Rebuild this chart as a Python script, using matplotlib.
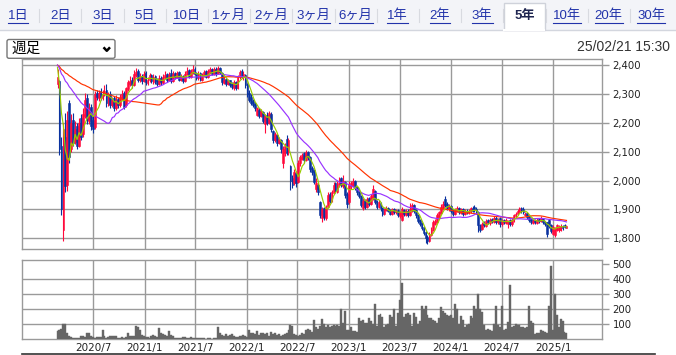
import numpy as np
import pandas as pd
import matplotlib
matplotlib.use("Agg")
import matplotlib.pyplot as plt
import matplotlib.dates as mdates
from matplotlib.patches import Rectangle, FancyBboxPatch

plt.rcParams['font.family'] = ['DejaVu Sans', 'Noto Sans CJK JP']

W, H = 676, 355

# weekly candles (週足), first week starts 2020-02-24
first_week = "2020-02-24"

opens = [
    2336, 2345, 2120, 1830, 2150, 1985, 2270, 2110, 2210, 2135,
    2190, 2120, 2215, 2160, 2225, 2285, 2205, 2255, 2210, 2185,
    2305, 2285, 2310, 2285, 2300, 2315, 2265, 2300, 2262, 2285,
    2252, 2282, 2262, 2285, 2305, 2260, 2318, 2335, 2350, 2332,
    2365, 2380, 2348, 2362, 2345, 2372, 2338, 2348, 2366, 2342,
    2362, 2348, 2333, 2356, 2338, 2358, 2368, 2350, 2372, 2345,
    2372, 2358, 2375, 2350, 2362, 2345, 2368, 2382, 2360, 2372,
    2388, 2372, 2355, 2372, 2350, 2362, 2378, 2360, 2375, 2388,
    2370, 2388, 2372, 2390, 2372, 2338, 2352, 2335, 2348, 2335,
    2322, 2342, 2320, 2358, 2380, 2358, 2366, 2335, 2305, 2290,
    2275, 2265, 2228, 2245, 2225, 2236, 2195, 2228, 2200, 2232,
    2170, 2140, 2158, 2130, 2140, 2060, 2095, 2145, 2098, 2050,
    2010, 1990, 2025, 1995, 2060, 2075, 2095, 2072, 2098, 2080,
    2045, 2035, 1970, 1985, 1925, 1870, 1905, 1870, 1910, 1955,
    1930, 1958, 1990, 1962, 1985, 2008, 1982, 1995, 1955, 1925,
    1980, 1985, 1998, 1978, 1962, 1948, 1905, 1932, 1910, 1938,
    1918, 1940, 1965, 1928, 1908, 1922, 1905, 1885, 1898, 1906,
    1898, 1885, 1902, 1890, 1898, 1878, 1865, 1898, 1882, 1896,
    1880, 1898, 1915, 1898, 1880, 1862, 1852, 1838, 1822, 1805,
    1792, 1812, 1830, 1850, 1858, 1875, 1888, 1905, 1935, 1918,
    1900, 1912, 1898, 1885, 1898, 1906, 1888, 1902, 1885, 1896,
    1888, 1892, 1906, 1910, 1902, 1892, 1846, 1832, 1852, 1842,
    1862, 1852, 1866, 1858, 1872, 1855, 1870, 1848, 1862, 1852,
    1850, 1862, 1848, 1862, 1878, 1884, 1890, 1906, 1900, 1882,
    1888, 1876, 1866, 1852, 1862, 1852, 1866, 1860, 1868, 1856,
    1855, 1862, 1845, 1815, 1812, 1830, 1828, 1830, 1842, 1845, 1837,
]
highs = [
    2385, 2350, 2150, 2200, 2235, 2240, 2280, 2230, 2235, 2205,
    2200, 2215, 2230, 2250, 2305, 2300, 2270, 2265, 2225, 2310,
    2315, 2315, 2320, 2312, 2330, 2335, 2308, 2310, 2290, 2292,
    2295, 2290, 2300, 2312, 2310, 2325, 2350, 2362, 2358, 2382,
    2390, 2385, 2372, 2368, 2380, 2378, 2360, 2372, 2370, 2368,
    2366, 2355, 2364, 2362, 2368, 2380, 2372, 2375, 2385, 2378,
    2376, 2380, 2378, 2368, 2366, 2378, 2392, 2385, 2385, 2400,
    2392, 2376, 2378, 2375, 2372, 2384, 2382, 2388, 2394, 2390,
    2392, 2392, 2398, 2395, 2376, 2362, 2356, 2352, 2350, 2342,
    2348, 2346, 2366, 2384, 2386, 2378, 2370, 2338, 2312, 2300,
    2282, 2272, 2256, 2250, 2248, 2240, 2232, 2236, 2242, 2238,
    2175, 2168, 2162, 2150, 2145, 2118, 2130, 2157, 2148, 2055,
    2020, 2040, 2032, 2071, 2088, 2095, 2100, 2106, 2104, 2084,
    2050, 2040, 2010, 1990, 1930, 1910, 1910, 1915, 1960, 1962,
    1968, 1995, 1995, 2000, 2012, 2012, 2018, 2000, 1960, 1998,
    1998, 2010, 2002, 1982, 1968, 1950, 1938, 1935, 1942, 1942,
    1952, 1985, 1968, 1932, 1932, 1926, 1910, 1906, 1912, 1910,
    1902, 1906, 1905, 1902, 1900, 1896, 1908, 1902, 1900, 1900,
    1922, 1922, 1918, 1902, 1884, 1868, 1856, 1842, 1826, 1810,
    1822, 1840, 1862, 1866, 1888, 1895, 1918, 1930, 1945, 1925,
    1918, 1916, 1902, 1906, 1912, 1910, 1906, 1905, 1900, 1902,
    1900, 1910, 1912, 1916, 1908, 1895, 1850, 1856, 1860, 1866,
    1866, 1870, 1872, 1876, 1876, 1870, 1874, 1866, 1866, 1870,
    1864, 1866, 1870, 1884, 1892, 1900, 1910, 1910, 1908, 1892,
    1892, 1880, 1870, 1866, 1866, 1870, 1872, 1876, 1872, 1860,
    1858, 1866, 1848, 1846, 1840, 1850, 1846, 1848, 1846, 1848, 1846,
]
lows = [
    2320, 2090, 1880, 1790, 1960, 1965, 2060, 2100, 2120, 2125,
    2110, 2115, 2140, 2150, 2215, 2195, 2195, 2175, 2165, 2180,
    2280, 2275, 2280, 2278, 2292, 2255, 2258, 2250, 2255, 2240,
    2245, 2250, 2255, 2280, 2248, 2255, 2310, 2328, 2322, 2328,
    2358, 2340, 2342, 2336, 2340, 2332, 2330, 2342, 2338, 2336,
    2335, 2328, 2330, 2332, 2335, 2352, 2342, 2345, 2338, 2342,
    2352, 2354, 2344, 2346, 2338, 2342, 2365, 2355, 2356, 2368,
    2365, 2350, 2350, 2344, 2346, 2358, 2354, 2356, 2370, 2364,
    2366, 2362, 2368, 2368, 2332, 2334, 2328, 2330, 2324, 2318,
    2315, 2312, 2316, 2352, 2354, 2350, 2322, 2290, 2272, 2262,
    2254, 2242, 2222, 2218, 2220, 2198, 2164, 2192, 2195, 2168,
    2130, 2132, 2120, 2125, 2095, 2043, 2085, 2088, 2090, 1967,
    1975, 1985, 1978, 1990, 2050, 2070, 2062, 2068, 2070, 2030,
    2020, 1988, 1962, 1950, 1870, 1857, 1865, 1862, 1905, 1922,
    1925, 1952, 1958, 1958, 1978, 1978, 1975, 1940, 1905, 1918,
    1972, 1978, 1968, 1950, 1938, 1908, 1898, 1902, 1905, 1912,
    1914, 1932, 1918, 1902, 1904, 1895, 1878, 1880, 1893, 1890,
    1880, 1881, 1884, 1885, 1874, 1872, 1860, 1878, 1876, 1874,
    1876, 1892, 1888, 1872, 1852, 1842, 1828, 1812, 1784, 1780,
    1786, 1808, 1826, 1845, 1852, 1868, 1884, 1900, 1908, 1898,
    1894, 1888, 1878, 1880, 1892, 1884, 1884, 1878, 1880, 1884,
    1884, 1888, 1890, 1892, 1884, 1822, 1822, 1828, 1838, 1838,
    1848, 1846, 1852, 1852, 1848, 1848, 1839, 1842, 1848, 1848,
    1836, 1842, 1844, 1858, 1872, 1880, 1886, 1888, 1885, 1876,
    1868, 1858, 1850, 1848, 1848, 1848, 1854, 1855, 1848, 1842,
    1804, 1836, 1818, 1810, 1806, 1825, 1822, 1826, 1830, 1834, 1834,
]
closes = [
    2360, 2110, 1900, 2180, 1980, 2210, 2080, 2200, 2130, 2180,
    2120, 2200, 2150, 2230, 2280, 2210, 2250, 2190, 2180, 2300,
    2290, 2305, 2290, 2300, 2310, 2270, 2300, 2260, 2280, 2250,
    2280, 2260, 2290, 2300, 2255, 2320, 2340, 2345, 2330, 2370,
    2375, 2350, 2360, 2345, 2370, 2340, 2350, 2365, 2345, 2360,
    2345, 2335, 2355, 2340, 2360, 2365, 2350, 2365, 2345, 2370,
    2360, 2372, 2350, 2360, 2345, 2370, 2380, 2360, 2375, 2385,
    2370, 2355, 2370, 2350, 2365, 2375, 2360, 2378, 2385, 2370,
    2385, 2370, 2390, 2375, 2340, 2350, 2335, 2345, 2330, 2325,
    2340, 2320, 2360, 2375, 2360, 2370, 2330, 2300, 2280, 2270,
    2260, 2250, 2250, 2225, 2240, 2205, 2225, 2200, 2235, 2180,
    2140, 2160, 2130, 2145, 2110, 2110, 2120, 2095, 2140, 2000,
    1985, 2030, 1990, 2060, 2080, 2090, 2070, 2100, 2080, 2040,
    2030, 1995, 1990, 1960, 1880, 1900, 1875, 1905, 1950, 1930,
    1960, 1985, 1965, 1990, 2005, 1985, 2000, 1950, 1920, 1985,
    1990, 2000, 1975, 1960, 1945, 1915, 1930, 1910, 1935, 1920,
    1945, 1970, 1925, 1910, 1925, 1905, 1885, 1900, 1905, 1895,
    1885, 1900, 1890, 1895, 1880, 1890, 1900, 1885, 1895, 1880,
    1900, 1915, 1895, 1880, 1860, 1850, 1835, 1820, 1800, 1790,
    1815, 1830, 1855, 1860, 1880, 1890, 1910, 1920, 1915, 1905,
    1910, 1895, 1885, 1900, 1905, 1890, 1900, 1885, 1895, 1890,
    1895, 1905, 1895, 1900, 1890, 1845, 1830, 1850, 1845, 1860,
    1855, 1865, 1860, 1870, 1855, 1865, 1850, 1860, 1855, 1865,
    1860, 1850, 1865, 1880, 1885, 1895, 1905, 1895, 1890, 1885,
    1875, 1865, 1855, 1860, 1855, 1865, 1860, 1870, 1855, 1850,
    1815, 1842, 1825, 1840, 1835, 1845, 1840, 1842, 1836, 1838, 1842,
]
# volume, unit 1000 shares
volume = [
    55, 60, 70, 105, 100, 40, 20, 15, 10, 8,
    10, 12, 20, 25, 15, 45, 40, 20, 15, 12,
    18, 15, 15, 65, 20, 12, 15, 25, 20, 25,
    20, 10, 12, 15, 12, 15, 45, 25, 20, 20,
    88, 85, 60, 30, 20, 18, 15, 12, 22, 30,
    20, 18, 75, 45, 35, 30, 20, 55, 30, 20,
    12, 8, 10, 10, 15, 18, 12, 10, 15, 12,
    10, 8, 10, 8, 10, 8, 5, 10, 8, 5,
    10, 8, 80, 40, 30, 25, 35, 20, 30, 38,
    22, 18, 15, 25, 20, 30, 25, 18, 60, 45,
    40, 35, 55, 30, 45, 40, 35, 45, 25, 50,
    35, 40, 30, 35, 25, 30, 35, 40, 60, 95,
    90, 35, 30, 25, 28, 40, 35, 60, 70, 60,
    50, 130, 80, 70, 90, 135, 100, 80, 95, 85,
    90, 95, 90, 95, 90, 205, 110, 190, 60, 60,
    85, 55, 55, 50, 140, 125, 130, 110, 110, 140,
    125, 105, 235, 90, 165, 170, 150, 80, 95, 100,
    165, 150, 200, 90, 175, 265, 375, 150, 170, 175,
    160, 90, 175, 150, 100, 120, 225, 200, 220, 160,
    145, 140, 130, 125, 110, 140, 215, 190, 175, 160,
    155, 165, 140, 235, 200, 100, 155, 130, 85, 95,
    105, 155, 140, 225, 200, 305, 200, 180, 95, 65,
    70, 60, 55, 100, 225, 95, 85, 220, 65, 70,
    115, 365, 85, 90, 100, 95, 95, 85, 80, 75,
    80, 225, 120, 110, 35, 40, 45, 60, 55, 50,
    45, 220, 490, 65, 300, 165, 85, 135, 120, 50, 45,
]
# estimated closes of the year before the window (feed the moving averages)
pre_closes = [
    2380, 2395, 2410, 2400, 2390, 2405, 2415, 2400, 2385, 2395,
    2405, 2410, 2400, 2390, 2400, 2410, 2405, 2395, 2390, 2400,
    2410, 2415, 2405, 2395, 2400, 2390, 2395, 2405, 2410, 2400,
    2395, 2405, 2400, 2390, 2400, 2410, 2405, 2400, 2395, 2405,
    2410, 2400, 2395, 2405, 2400, 2410, 2405, 2400, 2395, 2400, 2405,
]

ma_windows = [52, 26, 5]
ma_colors = ["#ff3300", "#9933ff", "#99cc00"]

tabs = ["1日", "2日", "3日", "5日", "10日", "1ヶ月", "2ヶ月", "3ヶ月",
        "6ヶ月", "1年", "2年", "3年", "5年", "10年", "20年", "30年"]
selected_tab = "5年"

x_tick_dates = ["2020-07-01", "2021-01-01", "2021-07-01", "2022-01-01", "2022-07-01",
                "2023-01-01", "2023-07-01", "2024-01-01", "2024-07-01", "2025-01-01"]
x_tick_labels = ["2020/7", "2021/1", "2021/7", "2022/1", "2022/7",
                 "2023/1", "2023/7", "2024/1", "2024/7", "2025/1"]
price_ticks = [1800, 1900, 2000, 2100, 2200, 2300, 2400]
vol_ticks = [100, 200, 300, 400, 500]

x_range = ("2019-10-20", "2025-06-23")
grid_col = "#9a9a9a"
up_col, down_col = "#ff0a3c", "#0a329f"


fig = plt.figure(figsize=(W / 100, H / 100), dpi=100)

bg = fig.add_axes([0, 0, 1, 1])
bg.set_xlim(0, W)
bg.set_ylim(H, 0)
bg.axis("off")


def px_axes(l, t, r, b):
    return fig.add_axes([l / W, 1 - b / H, (r - l) / W, (b - t) / H])


# header with period tabs
bg.add_patch(Rectangle((0, 0), W, 29.5, color="#f3f4f8", lw=0))
bg.plot([0, W], [29.5, 29.5], color="#d3d6de", lw=1)
tab_texts = []
for k, name in enumerate(tabs):
    cx = 18 + 42.2 * k
    if name == selected_tab:
        bg.add_patch(Rectangle((cx - 20.5, 3), 41, 27, facecolor="white",
                               edgecolor="#cfd2da", lw=1, zorder=2))
        bg.plot([cx - 20, cx + 20], [29.6, 29.6], color="white", lw=1.5, zorder=3)
        bg.text(cx, 16, name, ha="center", va="center", fontsize=9.5,
                fontweight="bold", color="#1e2550",
                family=["Liberation Sans", "Noto Sans CJK JP"], zorder=4)
    else:
        t = bg.text(cx, 16, name, ha="center", va="center", fontsize=9.5,
                    color="#2233aa", family=["Liberation Sans", "Noto Sans CJK JP"])
        tab_texts.append(t)
    if k < len(tabs) - 1:
        sx = cx + 21.1
        bg.plot([sx, sx], [9, 22], color="#d8dae0", lw=0.8)

fig.canvas.draw()
inv = bg.transData.inverted()
for t in tab_texts:
    ext = t.get_window_extent()
    (x0, _), (x1, _) = inv.transform([(ext.x0, ext.y0), (ext.x1, ext.y0)])
    bg.plot([x0, x1], [22.5, 22.5], color="#2233aa", lw=0.8)

# select box and timestamp
bg.add_patch(FancyBboxPatch((7, 39.5), 108, 18.8, boxstyle="round,pad=0,rounding_size=2",
                            facecolor="white", edgecolor="#767676", lw=1))
bg.text(11.5, 49, "週足", ha="left", va="center", fontsize=10.5, color="black",
        family=["Noto Sans CJK JP"])
bg.plot([103.5, 106.8, 110], [47.3, 50.8, 47.3], color="black", lw=1.8,
        solid_capstyle="butt")
bg.text(670, 47, "25/02/21 15:30", ha="right", va="center", fontsize=10,
        color="#333333", family=["Liberation Sans"])
bg.plot([22, 655], [354, 354], color="#333333", lw=1.2)

# data
dates = pd.date_range(first_week, periods=len(closes), freq="7D")
xs = mdates.date2num(dates)
o, hi, lo, c = (np.array(v, dtype=float) for v in (opens, highs, lows, closes))
cols = np.where(c >= o, up_col, down_col)
xlim = mdates.date2num(pd.to_datetime(list(x_range)))
xt = mdates.date2num(pd.to_datetime(x_tick_dates))


def style_panel(ax):
    for s in ax.spines.values():
        s.set_color(grid_col)
        s.set_linewidth(1)
    ax.set_xlim(*xlim)
    ax.yaxis.tick_right()
    ax.tick_params(axis="y", direction="out", length=4.8, width=1, color=grid_col,
                   labelsize=7.3, labelcolor="#222222", pad=3)
    for v in xt:
        ax.axvline(v, color=grid_col, lw=1, zorder=1)


# price panel
main = px_axes(22, 59.3, 601.7, 249)
style_panel(main)
main.set_ylim(1763, 2420)
main.set_yticks(price_ticks)
main.set_yticklabels([f"{v:,}" for v in price_ticks])
main.set_xticks([])
for v in price_ticks:
    main.axhline(v, color=grid_col, lw=1, zorder=1)

main.vlines(xs, lo, hi, colors=cols, lw=0.8, zorder=3)
main.bar(xs, np.abs(c - o), bottom=np.minimum(o, c), width=6.3, color=cols,
         edgecolor=cols, lw=0.4, zorder=4)

all_closes = pd.Series(pre_closes + closes, dtype=float)
for n, col in zip(ma_windows, ma_colors):
    ma = all_closes.rolling(n).mean().iloc[-len(closes):].to_numpy()
    main.plot(xs, ma, color=col, lw=0.85, zorder=5)

# volume panel
vol = px_axes(22, 260, 601.7, 339.3)
style_panel(vol)
vol.set_ylim(0, 528.7)
vol.set_yticks(vol_ticks)
for v in vol_ticks[:-1]:
    vol.axhline(v, color=grid_col, lw=1, zorder=1)
vol.bar(xs, volume, width=7.0, color="#666666", edgecolor="#666666", lw=0.3, zorder=3)
vol.set_xticks(xt)
vol.set_xticklabels(x_tick_labels)
vol.tick_params(axis="x", length=0, pad=2.5, labelsize=7.5, labelcolor="#222222")
bg.text(27, 268.5, "単位: 1000", ha="left", va="center", fontsize=7.5, color="#222222",
        family=["DejaVu Sans", "Noto Sans CJK JP"], zorder=10)

fig.savefig("out.png", dpi=100)
